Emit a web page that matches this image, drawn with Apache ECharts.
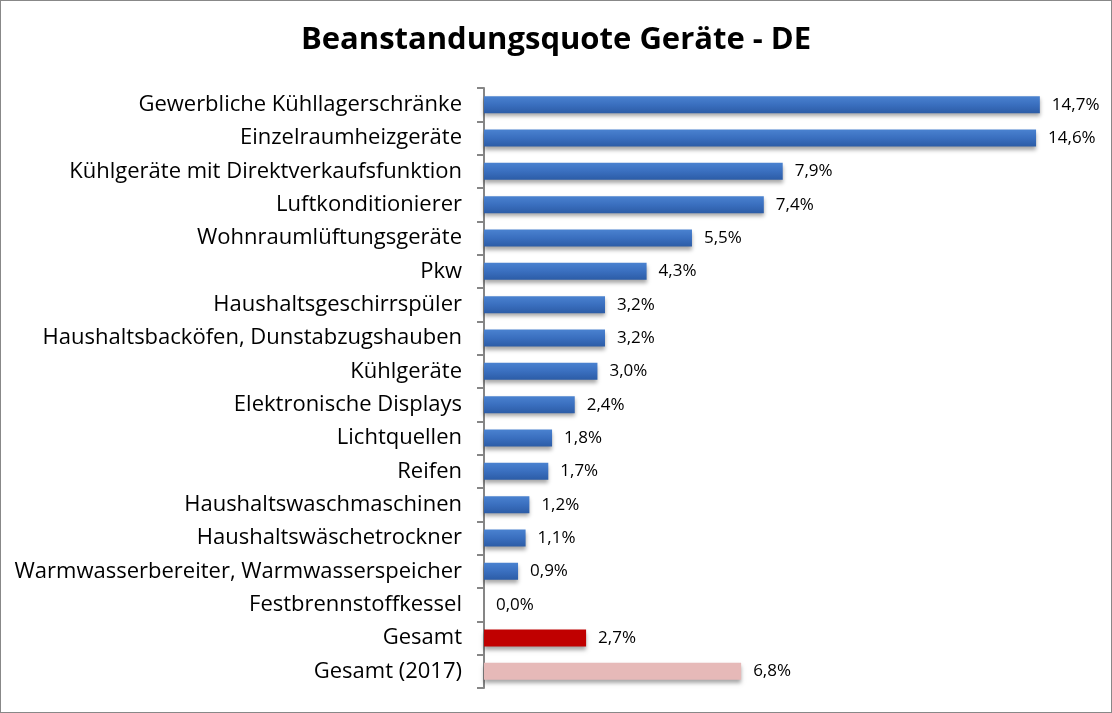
<!DOCTYPE html>
<html>
<head>
<meta charset="utf-8">
<script src="https://cdn.jsdelivr.net/npm/echarts@6/dist/echarts.min.js"></script>
<style>
    html, body { margin: 0; padding: 0; background: #fff; }
    #main {
        width: 1110px;
        height: 711px;
        border: 1px solid #888;
    }
</style>
</head>
<body>
<div id="main"></div>
<script>
var categories = [
    'Gewerbliche Kühllagerschränke',
    'Einzelraumheizgeräte',
    'Kühlgeräte mit Direktverkaufsfunktion',
    'Luftkonditionierer',
    'Wohnraumlüftungsgeräte',
    'Pkw',
    'Haushaltsgeschirrspüler',
    'Haushaltsbacköfen, Dunstabzugshauben',
    'Kühlgeräte',
    'Elektronische Displays',
    'Lichtquellen',
    'Reifen',
    'Haushaltswaschmaschinen',
    'Haushaltswäschetrockner',
    'Warmwasserbereiter, Warmwasserspeicher',
    'Festbrennstoffkessel',
    'Gesamt',
    'Gesamt (2017)'
];
var quote = [14.7, 14.6, 7.9, 7.4, 5.5, 4.3, 3.2, 3.2, 3.0, 2.4, 1.8, 1.7, 1.2, 1.1, 0.9, 0.0, 2.7, 6.8];

var blue = new echarts.graphic.LinearGradient(0, 0, 0, 1, [
    { offset: 0, color: '#4a82d0' },
    { offset: 0.5, color: '#3a6fbf' },
    { offset: 1, color: '#2c5ca6' }
]);

var barData = quote.map(function (v, i) {
    var color = blue;
    if (categories[i] === 'Gesamt') color = '#c00000';
    if (categories[i] === 'Gesamt (2017)') color = '#e6b9b8';
    return { value: v, itemStyle: { color: color } };
});

var myChart = echarts.init(document.getElementById('main'));
myChart.setOption({
    animation: false,
    title: {
        text: 'Beanstandungsquote Geräte - DE',
        left: 'center',
        top: 19,
        textStyle: {
            fontFamily: 'Open Sans',
            fontSize: 31,
            fontWeight: 'bold',
            color: '#000'
        }
    },
    grid: {
        left: 483,
        top: 87,
        width: 605,
        height: 600
    },
    xAxis: {
        type: 'value',
        min: 0,
        max: 16,
        show: false
    },
    yAxis: {
        type: 'category',
        inverse: true,
        data: categories,
        axisLine: { lineStyle: { color: '#868686', width: 2 } },
        axisTick: { show: true, length: 7, lineStyle: { color: '#868686', width: 2 } },
        axisLabel: {
            margin: 22,
            fontFamily: 'Open Sans',
            fontSize: 22,
            color: '#000'
        }
    },
    series: [{
        type: 'bar',
        data: barData,
        barWidth: 17,
        itemStyle: {
            shadowColor: 'rgba(0,0,0,0.35)',
            shadowBlur: 4,
            shadowOffsetY: 3
        },
        label: {
            show: true,
            position: 'right',
            distance: 12,
            fontFamily: 'Open Sans',
            fontSize: 17,
            color: '#000',
            formatter: function (p) {
                return p.value.toFixed(1).replace('.', ',') + '%';
            }
        }
    }]
});
</script>
</body>
</html>
